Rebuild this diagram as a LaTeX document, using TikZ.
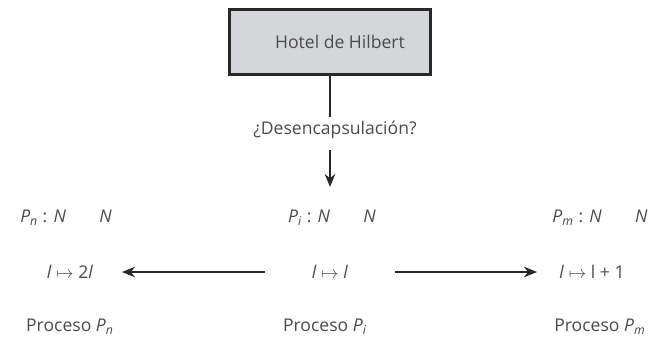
\documentclass[tikz,border=0pt]{standalone}
\usepackage{fontspec}
\setmainfont{Open Sans}
\usetikzlibrary{arrows.meta,positioning}
\definecolor{BoxFill}{RGB}{212,214,217}
\definecolor{TextGray}{RGB}{75,75,75}
\definecolor{LineDark}{RGB}{40,40,40}
\newcommand{\procP}[1]{\textit{P}\textsubscript{\textit{#1}}}
\tikzset{
  hotelbox/.style={draw=LineDark,line width=1.4pt,fill=BoxFill,minimum width=4.02cm,minimum height=1.3cm,font=\normalsize,text=TextGray},
  lbl/.style={font=\normalsize,text=TextGray,inner sep=1pt},
  link/.style={draw=LineDark,line width=1.3pt},
  flow/.style={-{Stealth[length=2.6mm,width=2.1mm]},draw=LineDark,line width=1.3pt}
}
\begin{document}
\begin{tikzpicture}[x=0.02cm,y=-0.02cm]
\useasboundingbox (0,0) rectangle (653,345);
\node[hotelbox](hotel) at (330,42){\hspace{0.4cm}Hotel de Hilbert};
\node[lbl](desenc) at (335,130){¿Desencapsulación?};
\coordinate (down1) at (330,150);
\coordinate (down2) at (330,187);
% left column
\node[lbl](typen) at (66,218){\procP{n} : \textit{N}\hspace{1.9em}\textit{N}};
\node[lbl](mapn) at (70,272){\textit{l} $\mapsto$ 2\textit{l}};
\node[lbl](procn) at (70,327){Proceso \procP{n}};
% middle column
\node[lbl](typei) at (332,218){\procP{i} : \textit{N}\hspace{1.9em}\textit{N}};
\node[lbl](mapi) at (330,272){\textit{l} $\mapsto$ \textit{l}};
\node[lbl](proci) at (325,327){Proceso \procP{i}};
% right column
\node[lbl](typem) at (600,218){\procP{m} : \textit{N}\hspace{1.9em}\textit{N}};
\node[lbl](mapm) at (592,272){\textit{l} $\mapsto$ l + 1};
\node[lbl](procm) at (600,327){Proceso \procP{m}};
\coordinate (leftstart) at (265,272);
\coordinate (leftend) at (122,272);
\coordinate (rightstart) at (395,272);
\coordinate (rightend) at (537,272);
\draw[link](hotel.south)--(hotel.south|-0,117);
\draw[flow](down1)--(down2);
\draw[flow](leftstart)--(leftend);
\draw[flow](rightstart)--(rightend);
\end{tikzpicture}
\end{document}
